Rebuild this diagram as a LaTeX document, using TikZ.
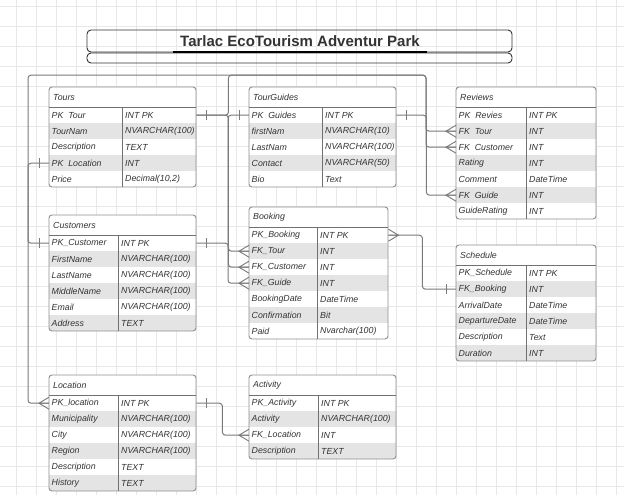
\documentclass[tikz,border=0pt]{standalone}
\usepackage{fontspec}
\setmainfont{Liberation Sans}
\usepackage{tikz}

\definecolor{rowgray}{HTML}{E4E4E4}
\definecolor{edgegray}{HTML}{8E8E8E}
\definecolor{linegray}{HTML}{7A7A7A}
\definecolor{gridgray}{HTML}{E8E8E8}
\definecolor{inkgray}{HTML}{333333}

\tikzset{
  gridline/.style={gridgray, line width=0.6pt},
  cell/.style={inner sep=0pt, anchor=west, font=\fontsize{8.8}{10}\selectfont\itshape, text=inkgray},
  rowbox/.style={inner sep=0pt, anchor=north west, minimum height=16pt},
  titleframe/.style={draw=inkgray, rounded corners=4pt, line width=0.9pt},
  titletext/.style={font=\fontsize{15}{18}\selectfont\bfseries, text=inkgray},
  conn/.style={draw=linegray, line width=1pt, rounded corners=3pt},
  bar/.pic={\draw[linegray, line width=0.9pt] (-10,-5) -- (-10,5);},
  crow/.pic={\draw[linegray, line width=0.9pt] (0,-6) -- (-10,0) -- (0,6) (-10,0) -- (0,0);}
}

\newcommand{\erbox}[8]{%
  \begin{scope}
    \clip[rounded corners=3pt] (#2,#3) rectangle ++(#4,20+16*#6);
    \node[rowbox, fill=white, minimum width=#4pt, minimum height=20pt] (#1) at (#2,#3) {};
    \node[cell] (#1-title) at ([xshift=4pt]#1.west) {#7};
    \foreach \fkey/\ftype [count=\i] in {#8}{
      \ifodd\i \def\rowfill{white}\else \def\rowfill{rowgray}\fi
      \node[rowbox, fill=\rowfill, minimum width=#4pt] (#1-\i) at (#2,#3+4+16*\i) {};
      \node[cell] (#1-\i-key) at ([xshift=2.5pt]#1-\i.west) {\fkey};
      \node[cell] (#1-\i-type) at ([xshift=#5pt+3pt]#1-\i.west) {\ftype};
    }
  \end{scope}
  \draw[edgegray, line width=0.9pt, rounded corners=3pt] (#2,#3) rectangle ++(#4,20+16*#6);
  \draw[edgegray!80!black, line width=1.2pt] (#1.south west) -- (#1.south east);
  \draw[edgegray!80!black, line width=0.9pt] (#2+#5,#3+20) -- (#2+#5,#3+20+16*#6);
}

\begin{document}
\begin{tikzpicture}[x=1pt, y=-1pt]
\fill[white] (0,0) rectangle (624,495);
\useasboundingbox (0,0) rectangle (624,495);
\foreach \gx in {16,36,...,616} \draw[gridline] (\gx,0) -- (\gx,495);
\foreach \gy in {6,26,...,486} \draw[gridline] (0,\gy) -- (624,\gy);

\draw[titleframe] (87,30) rectangle (512,52);
\draw[titleframe] (87,53) rectangle (512,63);
\draw[black, line width=2pt] (173,52.5) -- (427,52.5);
\node[titletext] (title) at (300,41) {Tarlac EcoTourism Adventur Park};

\erbox{tours}{49}{87}{147}{73}{5}{Tours}{PK\ \ Tour/INT PK, TourNam/NVARCHAR(100), Description/TEXT, PK\ \ Location/INT, Price/{Decimal(10,2)}}
\erbox{guides}{249}{87}{147}{73}{5}{TourGuides}{PK\ \ Guides/INT PK, firstNam/NVARCHAR(10), LastNam/NVARCHAR(100), Contact/NVARCHAR(50), Bio/Text}
\erbox{reviews}{456}{87}{140}{70}{7}{Reviews}{PK\ \ Revies/INT PK, FK\ \ Tour/INT, FK\ \ Customer/INT, Rating/INT, Comment/DateTime, FK\ \ Guide/INT, GuideRating/INT}
\erbox{customers}{49}{215}{147}{69}{6}{Customers}{PK\_Customer/INT PK, FirstName/NVARCHAR(100), LastName/NVARCHAR(100), MiddleName/NVARCHAR(100), Email/NVARCHAR(100), Address/TEXT}
\erbox{booking}{249}{207}{139}{68}{7}{Booking}{PK\_Booking/INT PK, FK\_Tour/INT, FK\_Customer/INT, FK\_Guide/INT, BookingDate/DateTime, Confirmation/Bit, Paid/Nvarchar(100)}
\erbox{schedule}{456}{245}{140}{70}{6}{Schedule}{PK\_Schedule/INT PK, FK\_Booking/INT, ArrivalDate/DateTime, DepartureDate/DateTime, Description/Text, Duration/INT}
\erbox{location}{49}{375}{147}{69}{6}{Location}{PK\_location/INT PK, Municipality/NVARCHAR(100), City/NVARCHAR(100), Region/NVARCHAR(100), Description/TEXT, History/TEXT}
\erbox{activity}{249}{375}{147}{69}{4}{Activity}{PK\_Activity/INT PK, Activity/NVARCHAR(100), FK\_Location/INT, Description/TEXT}

\draw[conn] (tours-1.east) -- ++(32,0) |- (booking-2.west);
\draw[conn] (tours-1.east) -- ++(32,0) -- ++(0,-40) -| ([xshift=-30pt]reviews-2.west) -- (reviews-2.west);
\draw[conn] (guides-1.west) -- ++(-21,0) |- (booking-4.west);
\draw[conn] (guides-1.east) -- ++(30,0) |- (reviews-6.west);
\draw[conn] (customers-1.east) -- ++(32,0) |- (booking-3.west);
\draw[conn] (customers-1.west) -- ++(-21,0) -- ++(0,-168) -| ([xshift=-30pt]reviews-3.west) -- (reviews-3.west);
\draw[conn] (tours-4.west) -- ++(-21,0) |- (location-1.west);
\draw[conn] (location-1.east) -- ++(26,0) |- (activity-3.west);
\draw[conn] (booking-1.east) -- ++(34,0) |- (schedule-2.west);

\foreach \n in {booking-2, booking-3, booking-4, reviews-2, reviews-3, reviews-6, location-1, activity-3} \pic at (\n.west) {crow};
\pic[rotate=180] at (booking-1.east) {crow};
\foreach \n in {tours-4, customers-1, guides-1, schedule-2} \pic at (\n.west) {bar};
\foreach \n in {tours-1, customers-1, guides-1, location-1} \pic[rotate=180] at (\n.east) {bar};
\end{tikzpicture}
\end{document}
